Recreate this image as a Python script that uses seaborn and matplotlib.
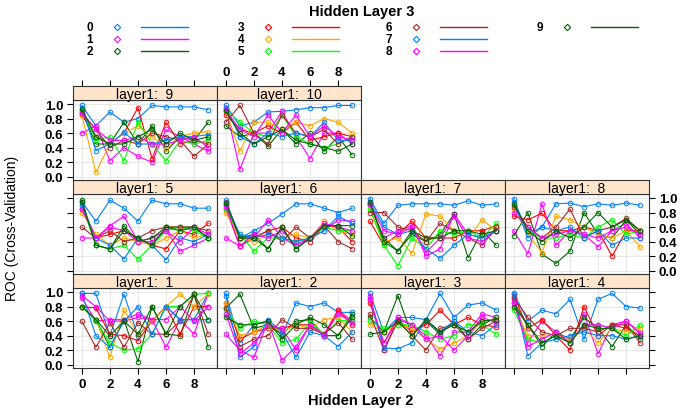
import numpy as np
import pandas as pd
import matplotlib
matplotlib.use("Agg")
import matplotlib.pyplot as plt
import seaborn as sns
from matplotlib.lines import Line2D
from matplotlib.ticker import FormatStrFormatter

# ---------------- data ----------------
hidden_layer2 = list(range(10))
hidden_layer3 = list(range(10))
layer1_levels = list(range(1, 11))

roc_l1_1 = [
    [0.98, 0.98, 0.40, 0.97, 0.40, 0.60, 0.80, 0.62, 0.62, 0.98],
    [0.92, 0.60, 0.62, 0.62, 0.70, 0.62, 0.24, 0.62, 0.42, 0.98],
    [0.80, 0.62, 0.24, 0.62, 0.04, 0.80, 0.42, 0.40, 0.97, 0.24],
    [0.80, 0.78, 0.42, 0.40, 0.33, 0.60, 0.80, 0.42, 0.80, 0.80],
    [0.80, 0.62, 0.10, 0.75, 0.42, 0.60, 0.80, 0.97, 0.80, 0.97],
    [0.80, 0.60, 0.30, 0.20, 0.22, 0.42, 0.80, 0.80, 0.97, 0.98],
    [0.60, 0.24, 0.58, 0.24, 0.58, 0.42, 0.42, 0.60, 0.97, 0.42],
    [0.98, 0.40, 0.24, 0.60, 0.80, 0.42, 0.80, 0.62, 0.62, 0.62],
    [0.95, 0.80, 0.60, 0.60, 0.65, 0.62, 0.62, 0.80, 0.60, 0.80],
    [0.80, 0.62, 0.40, 0.60, 0.42, 0.80, 0.42, 0.80, 0.97, 0.62],
]
roc_l1_2 = [
    [0.98, 0.30, 0.55, 0.60, 0.40, 0.85, 0.80, 0.85, 0.72, 0.72],
    [0.42, 0.20, 0.10, 0.60, 0.06, 0.25, 0.55, 0.42, 0.75, 0.60],
    [0.78, 0.97, 0.50, 0.55, 0.42, 0.60, 0.62, 0.40, 0.40, 0.70],
    [0.85, 0.35, 0.45, 0.50, 0.50, 0.55, 0.55, 0.40, 0.75, 0.55],
    [0.85, 0.40, 0.45, 0.55, 0.45, 0.55, 0.50, 0.62, 0.65, 0.45],
    [0.75, 0.50, 0.60, 0.55, 0.30, 0.35, 0.58, 0.42, 0.60, 0.62],
    [0.78, 0.25, 0.35, 0.40, 0.62, 0.50, 0.50, 0.42, 0.58, 0.35],
    [0.95, 0.10, 0.25, 0.62, 0.45, 0.10, 0.45, 0.40, 0.25, 0.45],
    [0.70, 0.15, 0.30, 0.55, 0.50, 0.20, 0.55, 0.40, 0.70, 0.58],
    [0.65, 0.55, 0.55, 0.60, 0.35, 0.55, 0.65, 0.55, 0.40, 0.65],
]
roc_l1_3 = [
    [0.98, 0.45, 0.65, 0.65, 0.62, 0.98, 0.65, 0.82, 0.85, 0.75],
    [0.95, 0.20, 0.62, 0.55, 0.40, 0.12, 0.45, 0.45, 0.70, 0.65],
    [0.65, 0.45, 0.95, 0.40, 0.60, 0.42, 0.60, 0.35, 0.55, 0.65],
    [0.85, 0.30, 0.62, 0.45, 0.55, 0.75, 0.55, 0.65, 0.55, 0.52],
    [0.55, 0.45, 0.55, 0.50, 0.35, 0.22, 0.30, 0.40, 0.60, 0.62],
    [0.60, 0.50, 0.55, 0.55, 0.45, 0.35, 0.40, 0.55, 0.55, 0.42],
    [0.70, 0.20, 0.60, 0.40, 0.20, 0.50, 0.55, 0.35, 0.50, 0.60],
    [0.90, 0.23, 0.22, 0.30, 0.62, 0.45, 0.60, 0.45, 0.40, 0.55],
    [0.90, 0.30, 0.65, 0.55, 0.35, 0.40, 0.20, 0.40, 0.65, 0.58],
    [0.42, 0.45, 0.60, 0.40, 0.62, 0.45, 0.55, 0.45, 0.60, 0.62],
]
roc_l1_4 = [
    [0.98, 0.60, 0.75, 0.70, 0.90, 0.35, 0.90, 0.98, 0.80, 0.78],
    [0.90, 0.30, 0.60, 0.45, 0.30, 0.70, 0.15, 0.55, 0.60, 0.45],
    [0.85, 0.55, 0.25, 0.45, 0.35, 0.65, 0.50, 0.25, 0.55, 0.35],
    [0.95, 0.50, 0.62, 0.40, 0.20, 0.80, 0.40, 0.55, 0.50, 0.40],
    [0.80, 0.40, 0.40, 0.42, 0.35, 0.50, 0.30, 0.50, 0.45, 0.50],
    [0.75, 0.35, 0.30, 0.40, 0.30, 0.55, 0.55, 0.50, 0.40, 0.55],
    [0.92, 0.65, 0.45, 0.40, 0.50, 0.50, 0.45, 0.55, 0.55, 0.30],
    [0.97, 0.12, 0.30, 0.35, 0.40, 0.45, 0.40, 0.40, 0.35, 0.40],
    [0.85, 0.25, 0.35, 0.45, 0.30, 0.55, 0.55, 0.50, 0.60, 0.42],
    [0.80, 0.55, 0.30, 0.40, 0.30, 0.55, 0.50, 0.50, 0.35, 0.40],
]
roc_l1_5 = [
    [0.95, 0.68, 0.97, 0.86, 0.68, 0.97, 0.92, 0.92, 0.86, 0.86],
    [0.45, 0.45, 0.62, 0.75, 0.40, 0.45, 0.55, 0.27, 0.35, 0.45],
    [0.97, 0.35, 0.30, 0.62, 0.40, 0.45, 0.60, 0.60, 0.60, 0.45],
    [0.85, 0.45, 0.50, 0.55, 0.45, 0.35, 0.30, 0.55, 0.50, 0.65],
    [0.80, 0.50, 0.35, 0.45, 0.40, 0.35, 0.45, 0.55, 0.45, 0.50],
    [0.90, 0.35, 0.30, 0.35, 0.16, 0.35, 0.55, 0.60, 0.55, 0.45],
    [0.60, 0.45, 0.55, 0.40, 0.45, 0.55, 0.60, 0.60, 0.60, 0.55],
    [0.90, 0.45, 0.35, 0.16, 0.45, 0.35, 0.15, 0.45, 0.40, 0.50],
    [0.85, 0.45, 0.60, 0.55, 0.40, 0.40, 0.55, 0.40, 0.60, 0.50],
    [0.95, 0.35, 0.30, 0.55, 0.45, 0.35, 0.60, 0.55, 0.60, 0.45],
]
roc_l1_6 = [
    [0.97, 0.45, 0.55, 0.65, 0.78, 0.92, 0.92, 0.86, 0.80, 0.86],
    [0.45, 0.34, 0.45, 0.70, 0.45, 0.35, 0.45, 0.55, 0.70, 0.68],
    [0.90, 0.45, 0.50, 0.30, 0.60, 0.30, 0.45, 0.62, 0.62, 0.62],
    [0.85, 0.34, 0.45, 0.55, 0.60, 0.45, 0.40, 0.62, 0.60, 0.40],
    [0.80, 0.45, 0.40, 0.50, 0.45, 0.50, 0.45, 0.68, 0.55, 0.50],
    [0.85, 0.50, 0.27, 0.45, 0.45, 0.40, 0.45, 0.60, 0.55, 0.55],
    [0.95, 0.45, 0.45, 0.55, 0.40, 0.60, 0.45, 0.62, 0.40, 0.30],
    [0.92, 0.50, 0.45, 0.50, 0.45, 0.40, 0.45, 0.55, 0.75, 0.65],
    [0.88, 0.34, 0.50, 0.45, 0.55, 0.35, 0.45, 0.65, 0.60, 0.55],
    [0.93, 0.45, 0.45, 0.30, 0.60, 0.30, 0.45, 0.62, 0.62, 0.48],
]
roc_l1_7 = [
    [0.99, 0.65, 0.90, 0.92, 0.92, 0.92, 0.90, 0.96, 0.90, 0.92],
    [0.90, 0.45, 0.55, 0.62, 0.20, 0.30, 0.78, 0.50, 0.45, 0.55],
    [0.92, 0.45, 0.27, 0.50, 0.40, 0.50, 0.78, 0.18, 0.55, 0.35],
    [0.68, 0.35, 0.50, 0.68, 0.45, 0.45, 0.45, 0.55, 0.55, 0.62],
    [0.85, 0.40, 0.45, 0.24, 0.78, 0.75, 0.55, 0.45, 0.70, 0.55],
    [0.85, 0.35, 0.07, 0.45, 0.30, 0.55, 0.50, 0.55, 0.45, 0.65],
    [0.80, 0.80, 0.60, 0.55, 0.40, 0.65, 0.55, 0.45, 0.35, 0.60],
    [0.95, 0.60, 0.50, 0.55, 0.30, 0.17, 0.35, 0.50, 0.45, 0.55],
    [0.92, 0.55, 0.50, 0.60, 0.25, 0.45, 0.75, 0.45, 0.40, 0.55],
    [0.95, 0.40, 0.27, 0.55, 0.45, 0.45, 0.55, 0.55, 0.50, 0.55],
]
roc_l1_8 = [
    [0.99, 0.50, 0.60, 0.92, 0.93, 0.88, 0.92, 0.90, 0.93, 0.90],
    [0.55, 0.23, 0.92, 0.35, 0.55, 0.50, 0.33, 0.55, 0.65, 0.45],
    [0.48, 0.80, 0.23, 0.10, 0.27, 0.80, 0.50, 0.45, 0.70, 0.50],
    [0.75, 0.70, 0.79, 0.55, 0.55, 0.60, 0.55, 0.20, 0.55, 0.55],
    [0.85, 0.50, 0.25, 0.75, 0.70, 0.60, 0.50, 0.45, 0.55, 0.33],
    [0.90, 0.55, 0.45, 0.45, 0.50, 0.45, 0.60, 0.70, 0.50, 0.55],
    [0.88, 0.60, 0.45, 0.60, 0.85, 0.45, 0.55, 0.60, 0.72, 0.55],
    [0.95, 0.45, 0.60, 0.55, 0.60, 0.45, 0.55, 0.35, 0.45, 0.45],
    [0.80, 0.60, 0.45, 0.50, 0.55, 0.50, 0.45, 0.55, 0.60, 0.50],
    [0.92, 0.55, 0.40, 0.55, 0.45, 0.60, 0.80, 0.60, 0.70, 0.55],
]
roc_l1_9 = [
    [0.98, 0.70, 0.89, 0.75, 0.80, 0.98, 0.96, 0.96, 0.96, 0.92],
    [0.60, 0.70, 0.22, 0.40, 0.28, 0.20, 0.65, 0.55, 0.45, 0.35],
    [0.90, 0.45, 0.45, 0.75, 0.45, 0.70, 0.35, 0.55, 0.50, 0.75],
    [0.85, 0.55, 0.45, 0.60, 0.95, 0.25, 0.75, 0.45, 0.50, 0.45],
    [0.85, 0.06, 0.45, 0.60, 0.70, 0.55, 0.40, 0.55, 0.60, 0.62],
    [0.92, 0.50, 0.55, 0.22, 0.75, 0.45, 0.22, 0.50, 0.45, 0.50],
    [0.88, 0.65, 0.40, 0.50, 0.45, 0.60, 0.55, 0.50, 0.28, 0.45],
    [0.95, 0.36, 0.45, 0.61, 0.45, 0.45, 0.50, 0.55, 0.55, 0.58],
    [0.87, 0.65, 0.50, 0.50, 0.55, 0.45, 0.45, 0.50, 0.55, 0.40],
    [0.93, 0.55, 0.45, 0.45, 0.55, 0.65, 0.45, 0.60, 0.50, 0.55],
]
roc_l1_10 = [
    [0.98, 0.70, 0.75, 0.89, 0.90, 0.92, 0.95, 0.95, 0.98, 0.98],
    [0.95, 0.10, 0.60, 0.60, 0.90, 0.55, 0.25, 0.60, 0.60, 0.45],
    [0.70, 0.55, 0.60, 0.42, 0.65, 0.45, 0.60, 0.35, 0.55, 0.30],
    [0.85, 0.65, 0.60, 0.70, 0.60, 0.75, 0.50, 0.55, 0.60, 0.55],
    [0.90, 0.35, 0.75, 0.75, 0.65, 0.75, 0.70, 0.80, 0.75, 0.60],
    [0.92, 0.75, 0.60, 0.55, 0.85, 0.55, 0.45, 0.40, 0.45, 0.55],
    [0.75, 0.98, 0.60, 0.45, 0.85, 0.60, 0.55, 0.65, 0.45, 0.55],
    [0.95, 0.55, 0.45, 0.60, 0.55, 0.60, 0.55, 0.75, 0.50, 0.50],
    [0.92, 0.65, 0.55, 0.85, 0.60, 0.85, 0.55, 0.70, 0.55, 0.50],
    [0.90, 0.60, 0.45, 0.55, 0.65, 0.50, 0.45, 0.40, 0.35, 0.45],
]
roc_tables = [roc_l1_1, roc_l1_2, roc_l1_3, roc_l1_4, roc_l1_5,
              roc_l1_6, roc_l1_7, roc_l1_8, roc_l1_9, roc_l1_10]

y_ticks = [0.0, 0.2, 0.4, 0.6, 0.8, 1.0]
x_ticks = [0, 2, 4, 6, 8]

base_cols = ["#0080ff", "#ff00ff", "#006400", "#ff0000", "#ffa500", "#00ff00", "#a52a2a"]
palette = {h: base_cols[h % 7] for h in hidden_layer3}

rows = []
for l1, tab in zip(layer1_levels, roc_tables):
    for h3, series in zip(hidden_layer3, tab):
        for h2, v in zip(hidden_layer2, series):
            rows.append((l1, h3, h2, v))
df = pd.DataFrame(rows, columns=["layer1", "hl3", "hl2", "roc"])

# ---------------- figure ----------------
plt.rcParams["font.family"] = ["Liberation Sans", "DejaVu Sans"]
plt.rcParams["font.weight"] = "bold"
W, H = 683, 414
fig = plt.figure(figsize=(W / 100, H / 100), dpi=100)


def fr(x0, y0, w, h):
    return [x0 / W, 1 - (y0 + h) / H, w / W, h / H]


col_left = [73, 217, 361, 505]
row_top = [87, 181, 275]
PW, PH, SH = 144, 80, 14
XLIM = (-0.63, 9.63)
TICK_FS = 9.5
pos = {1: (2, 0), 2: (2, 1), 3: (2, 2), 4: (2, 3),
       5: (1, 0), 6: (1, 1), 7: (1, 2), 8: (1, 3),
       9: (0, 0), 10: (0, 1)}

for l1 in layer1_levels:
    r, c = pos[l1]
    ax = fig.add_axes(fr(col_left[c], row_top[r] + SH, PW, PH))
    sax = fig.add_axes(fr(col_left[c], row_top[r], PW, SH))
    sax.set_facecolor("#ffe5cc")
    sax.set_xlim(*XLIM)
    sax.set_yticks([])
    sax.text(0.5, 0.42, f"layer1:  {l1}", ha="center", va="center",
             fontsize=10, fontweight="normal", transform=sax.transAxes)
    for sp in sax.spines.values():
        sp.set_color("#333333"); sp.set_linewidth(0.8)
    if r == 0:
        sax.set_xticks(x_ticks)
        sax.tick_params(direction="out", length=4, width=0.8, labelsize=TICK_FS, pad=2,
                        bottom=False, labelbottom=False, top=True,
                        labeltop=(c == 1))
    else:
        sax.set_xticks([])

    ax.set_xticks(x_ticks)
    ax.set_yticks(y_ticks)
    ax.grid(True, color="#e8e8e8", linewidth=0.8)
    ax.set_axisbelow(True)
    sub = df[df["layer1"] == l1]
    sns.lineplot(data=sub, x="hl2", y="roc", hue="hl3", hue_order=hidden_layer3,
                 palette=palette, marker="o", markersize=3.3, linewidth=0.8,
                 estimator=None, legend=False, ax=ax)
    for ln in ax.lines:
        colr = ln.get_color()
        ln.set_markeredgecolor(colr)
        ln.set_markerfacecolor("none")
        ln.set_markeredgewidth(0.7)
    ax.set_xlim(*XLIM)
    ax.set_ylim(-0.045, 1.055)
    ax.set_xlabel(""); ax.set_ylabel("")
    ax.yaxis.set_major_formatter(FormatStrFormatter("%.1f"))
    for sp in ax.spines.values():
        sp.set_color("#333333"); sp.set_linewidth(0.8)

    ax.tick_params(direction="out", length=4, width=0.8, colors="black",
                   labelsize=TICK_FS, pad=3,
                   left=(c == 0), labelleft=(c == 0 and r in (0, 2)),
                   right=(c == 3), labelright=(c == 3 and r == 1),
                   bottom=(r == 2), labelbottom=(r == 2 and c in (0, 2)),
                   top=False, labeltop=False)

# legend
fig.text(362 / W, 1 - 12 / H, "Hidden Layer 3", ha="center", va="center",
         fontsize=10.5, fontweight="bold")
leg_x = [90, 241, 389, 540]
for h in hidden_layer3:
    cc, rr = h // 3, h % 3
    x0 = leg_x[cc]
    y = 1 - (28 + 12 * rr) / H
    fig.text(x0 / W, y, str(h), ha="center", va="center", fontsize=8.5, fontweight="bold")
    fig.add_artist(Line2D([(x0 + 27) / W], [y], marker="D", ms=3.2, mfc="none",
                          mec=palette[h], mew=0.8, linestyle="none",
                          transform=fig.transFigure))
    fig.add_artist(Line2D([(x0 + 51) / W, (x0 + 98) / W], [y, y], color=palette[h],
                          lw=1, transform=fig.transFigure))

fig.text(12 / W, 1 - 228 / H, "ROC (Cross-Validation)", rotation=90, ha="center",
         va="center", fontsize=10, fontweight="normal")
fig.text(361 / W, 1 - 401 / H, "Hidden Layer 2", ha="center", va="center",
         fontsize=10.5, fontweight="bold")

fig.savefig("out.png", dpi=100)
